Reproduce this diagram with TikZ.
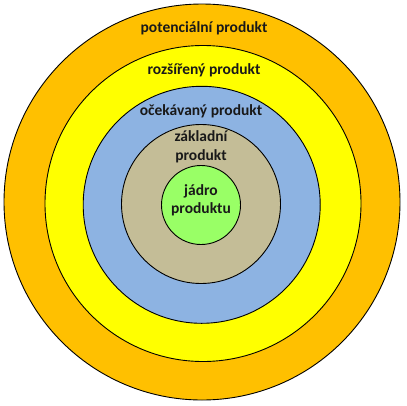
\documentclass[tikz,border=0pt]{standalone}
\usepackage{fontspec}
\setmainfont{Carlito}
\begin{document}
\begin{tikzpicture}[x=1pt,y=-1pt,
  ring/.style={draw=black,line width=0.9pt},
  lbl/.style={font=\bfseries\fontsize{15.5}{19}\selectfont,text=black!90,inner sep=0pt,align=center,anchor=base}]
\useasboundingbox[fill=white] (0,0) rectangle (407,405);
\definecolor{corange}{HTML}{FFC000}
\definecolor{cyellow}{HTML}{FFFF00}
\definecolor{cblue}{HTML}{8DB3E2}
\definecolor{ctan}{HTML}{C4BD97}
\definecolor{cgreen}{HTML}{99FF66}
\fill[corange,ring] (202,202) circle (198);
\fill[cyellow,ring] (203,203.5) circle (158);
\fill[cblue,ring] (201.7,204.8) circle (118.5);
\fill[ctan,ring] (201,204) circle (79.5);
\fill[cgreen,ring] (201,205) circle (39.5);
\node[lbl] (pot) at (204,32.7) {potenciální produkt};
\node[lbl] (roz) at (204,74) {rozšířený produkt};
\node[lbl] (oce) at (201,115.7) {očekávaný produkt};
\node[lbl] (zak) at (201,160.7) {základní\\produkt};
\node[lbl,font=\bfseries\fontsize{15.5}{17.6}\selectfont] (jad) at (201,213.3) {jádro\\produktu};
\end{tikzpicture}
\end{document}
